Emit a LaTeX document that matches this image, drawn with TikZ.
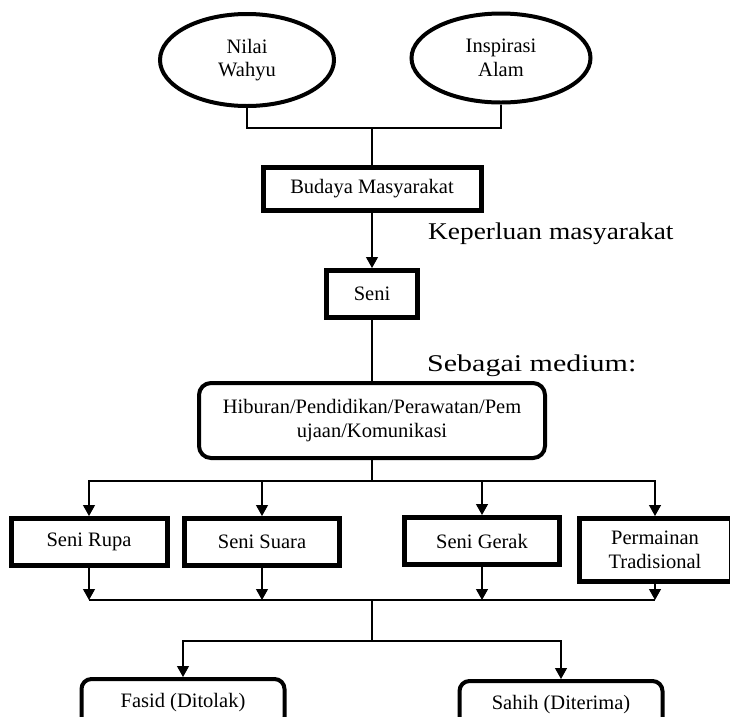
\documentclass[tikz,border=0pt]{standalone}
\usepackage{fontspec}
\setmainfont{Liberation Serif}
\newfontfamily\lblfontA[FakeStretch=1.14]{Liberation Serif}
\newfontfamily\lblfontB[FakeStretch=1.25]{Liberation Serif}
\usetikzlibrary{shapes.geometric,arrows.meta}
\begin{document}
\begin{tikzpicture}[x=1pt,y=-1pt,
  txt/.style={font=\fontsize{20.5}{23.5}\selectfont,align=center,inner sep=0pt},
  ell/.style={txt,ellipse,draw,line width=4pt},
  sqbox/.style={txt,rectangle,draw,line width=5pt},
  rbox/.style={txt,rectangle,draw,line width=4pt,rounded corners=12pt},
  lbl/.style={inner sep=0pt,anchor=base west},
  conn/.style={line width=1.2pt},
  arr/.style={conn,-{Triangle[width=12pt,length=11pt]}}
]
\useasboundingbox (0,0) rectangle (730,716);
% top ellipses
\node[ell,minimum width=174pt,minimum height=92pt] (nw) at (247,60) {Nilai\\Wahyu};
\node[ell,minimum width=179pt,minimum height=89pt] (ia) at (501,58) {Inspirasi\\Alam};
\coordinate (j1) at (372,128);
% main chain
\node[sqbox,minimum width=218pt,minimum height=43pt] (bm) at (372,189) {Budaya Masyarakat};
\node[sqbox,minimum width=91pt,minimum height=47pt] (seni) at (372,294) {Seni};
\node[rbox,minimum width=346pt,minimum height=75pt] (hib) at (372,420.5) {Hiburan/Pendidikan/Perawatan/Pem\\ujaan/Komunikasi};
\node[lbl,font=\lblfontA\fontsize{24}{27}\selectfont] (kep) at (428,239) {Keperluan masyarakat};
\node[lbl,font=\lblfontB\fontsize{24}{27}\selectfont] (seb) at (427,371) {Sebagai medium:};
\coordinate (j2) at (372,481);
% row of media
\node[sqbox,minimum width=156pt,minimum height=47pt] (sr) at (89,542) {Seni Rupa};
\node[sqbox,minimum width=155pt,minimum height=47pt] (ss) at (262,542) {Seni Suara};
\node[sqbox,minimum width=155pt,minimum height=47pt] (sg) at (482,541) {Seni Gerak};
\node[sqbox,minimum width=152pt,minimum height=63pt] (pt) at (655,550) {Permainan\\Tradisional};
\coordinate (j3) at (372,600);
\coordinate (j4) at (372,641);
% outcomes
\node[rbox,rounded corners=10pt,minimum width=203pt,minimum height=48pt] (fa) at (183,703) {Fasid (Ditolak)};
\node[rbox,rounded corners=10pt,minimum width=203pt,minimum height=48pt] (sa) at (561,705) {Sahih (Diterima)};
% connectors
\draw[conn] (nw.south) |- (j1);
\draw[conn] (ia.south) |- (j1);
\draw[conn] (j1) -- (bm.north);
\draw[arr] (bm.south) -- (seni.north);
\draw[conn] (seni.south) -- (hib.north);
\draw[conn] (hib.south) -- (j2);
\draw[arr] (j2) -| (sr.north);
\draw[arr] (j2) -| (ss.north);
\draw[arr] (j2) -| (sg.north);
\draw[arr] (j2) -| (pt.north);
\draw[conn] (sr.south |- j3) -- (pt.south |- j3);
\draw[arr] (sr.south) -- (sr.south |- j3);
\draw[arr] (ss.south) -- (ss.south |- j3);
\draw[arr] (sg.south) -- (sg.south |- j3);
\draw[arr] (pt.south) -- (pt.south |- j3);
\draw[conn] (j3) -- (j4);
\draw[arr] (j4) -| (fa.north);
\draw[arr] (j4) -| (sa.north);
\end{tikzpicture}
\end{document}
